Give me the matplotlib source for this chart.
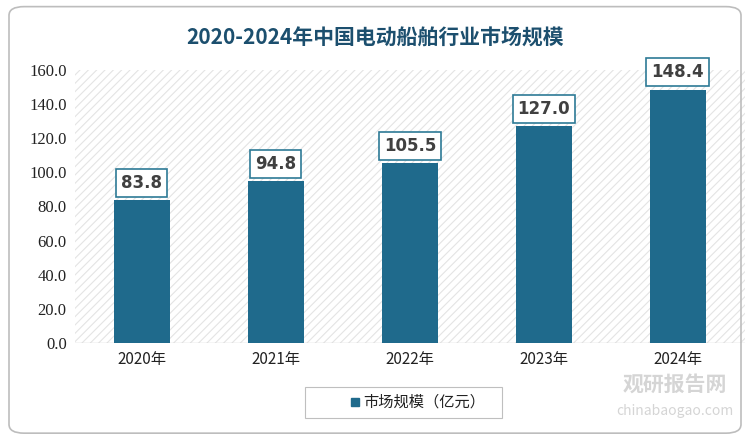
import matplotlib
matplotlib.use("Agg")
import matplotlib.pyplot as plt
from matplotlib import font_manager
from matplotlib.patches import FancyBboxPatch, Rectangle

cjk = [f for f in font_manager.fontManager.ttflist if "CJK" in f.name]
names = sorted({f.name for f in cjk})
pick = next((n for n in names if "SC" in n), names[0] if names else "DejaVu Sans")
plt.rcParams["font.family"] = [pick, "DejaVu Sans"]
plt.rcParams["hatch.color"] = "#e2e2e2"
plt.rcParams["hatch.linewidth"] = 0.8

years = ["2020年", "2021年", "2022年", "2023年", "2024年"]
values = [83.8, 94.8, 105.5, 127.0, 148.4]
yticks = [0, 20, 40, 60, 80, 100, 120, 140, 160]
title = "2020-2024年中国电动船舶行业市场规模"
legend_label = "市场规模（亿元）"
bar_color = "#1f6a8c"
serif = "Liberation Serif"

fig = plt.figure(figsize=(7.5, 4.42), dpi=100)
fig.patch.set_facecolor("white")
fig.add_artist(FancyBboxPatch((0.012, 0.02), 0.976, 0.965, boxstyle="round,pad=0,rounding_size=0.02",
                              transform=fig.transFigure, fill=False, ec="#bdbdbd", lw=1.2))
ax = fig.add_axes([0.1, 0.224, 0.893, 0.618])
ax.add_patch(Rectangle((0, 0), 1, 1, transform=ax.transAxes, facecolor="white",
                       hatch="////", edgecolor="#e4e4e4", lw=0, zorder=0))
x = range(len(years))
ax.bar(x, values, width=0.42, color=bar_color, zorder=2)
for i, v in enumerate(values):
    ax.annotate(f"{v:.1f}", (i, v), xytext=(0, 6), textcoords="offset points", ha="center",
                va="bottom", fontsize=12, fontweight="bold", color="#404040", zorder=3,
                family="DejaVu Sans",
                bbox=dict(boxstyle="square,pad=0.3", fc="white", ec="#2d7a96", lw=1.2))
ax.set_xlim(-0.5, 4.5)
ax.set_ylim(0, 160)
ax.set_yticks(yticks)
ax.set_yticklabels([f"{t:.1f}" for t in yticks], fontsize=12, color="#222222", family=serif)
ax.set_xticks(list(x))
ax.set_xticklabels(years, fontsize=11, color="#222222")
ax.tick_params(length=0, pad=6)
for s in ax.spines.values():
    s.set_visible(False)
ax.axhline(0, color="#d0d0d0", lw=1, zorder=1)
fig.text(0.5, 0.915, title, ha="center", va="center", fontsize=15, fontweight="bold", color="#1c4f6e")
fig.add_artist(Rectangle((0.407, 0.055), 0.262, 0.07, transform=fig.transFigure, fill=False,
                         ec="#bfbfbf", lw=0.8))
fig.add_artist(Rectangle((0.468, 0.082), 0.011, 0.018, transform=fig.transFigure, color=bar_color))
fig.text(0.485, 0.091, legend_label, va="center", fontsize=11, color="#222222")
fig.text(0.9, 0.13, "观研报告网", ha="center", va="center", fontsize=15, fontweight="bold", color="#d5d5d5")
fig.text(0.9, 0.07, "chinabaogao.com", ha="center", va="center", fontsize=10, color="#d5d5d5")
fig.savefig("out.png", dpi=100)
